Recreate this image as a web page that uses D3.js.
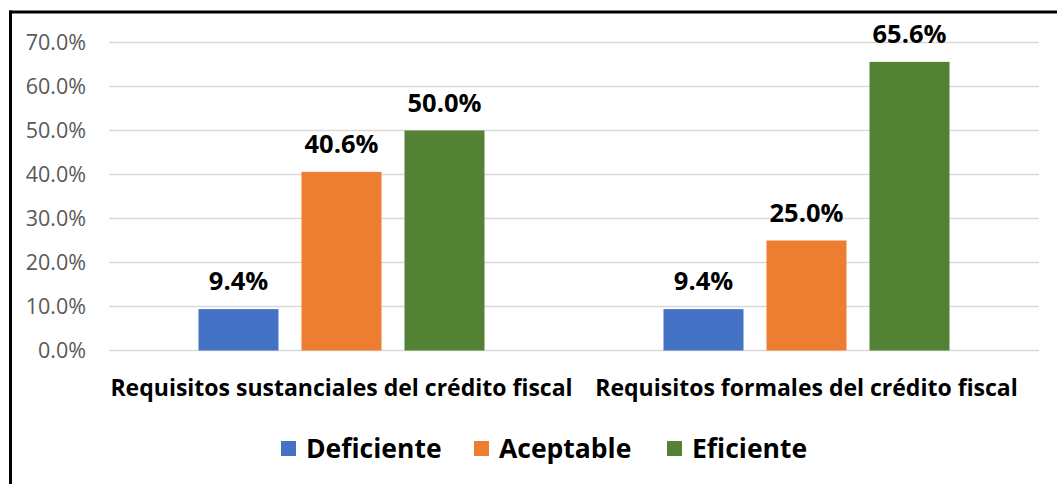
<!DOCTYPE html>
<html lang="es">
<head>
    <meta charset="UTF-8">
    <title>Requisitos del crédito fiscal</title>
    <script src="https://cdnjs.cloudflare.com/ajax/libs/d3/7.8.5/d3.min.js"></script>
    <style>
        body {
            margin: 0;
            background: #fff;
        }
        svg {
            display: block;
            font-family: "Open Sans", "Noto Sans", sans-serif;
        }
        .grid line {
            stroke: #d9d9d9;
            stroke-width: 1.5;
        }
        .tick-label {
            fill: #595959;
            font-size: 21.5px;
        }
        .value-label {
            font-size: 25.5px;
            font-weight: bold;
            fill: #000;
        }
        .cat-label {
            font-size: 23px;
            font-weight: bold;
            fill: #000;
        }
        .legend-label {
            font-size: 26.5px;
            font-weight: bold;
            fill: #000;
        }
    </style>
</head>
<body>
    <svg id="chart" width="1057" height="484"></svg>

    <script>
        const categories = [
            "Requisitos sustanciales del crédito fiscal",
            "Requisitos formales del crédito fiscal"
        ];
        const series = ["Deficiente", "Aceptable", "Eficiente"];
        const colors = ["#4472c4", "#ed7d31", "#548235"];
        // values in percent, one row per category
        const deficiente = [9.4, 9.4];
        const aceptable = [40.6, 25.0];
        const eficiente = [50.0, 65.6];
        const yTicks = [0, 10, 20, 30, 40, 50, 60, 70];

        const values = [deficiente, aceptable, eficiente];

        const svg = d3.select("#chart");
        const width = 1057;
        const height = 484;

        svg.append("rect")
            .attr("width", width)
            .attr("height", height)
            .attr("fill", "#fff");

        // frame of the pasted chart (only left and top are visible)
        svg.append("line")
            .attr("x1", 10.5).attr("x2", 10.5)
            .attr("y1", 10.5).attr("y2", height)
            .attr("stroke", "#000").attr("stroke-width", 3);
        svg.append("line")
            .attr("x1", 9).attr("x2", width)
            .attr("y1", 12).attr("y2", 12)
            .attr("stroke", "#000").attr("stroke-width", 3);

        const plot = { left: 109, right: 1039, top: 42.5, bottom: 350.5 };

        const y = d3.scaleLinear()
            .domain([0, 70])
            .range([plot.bottom, plot.top]);

        const x0 = d3.scaleBand()
            .domain(categories)
            .range([plot.left, plot.right]);

        const groupWidth = 286;
        const x1 = d3.scaleBand()
            .domain(series)
            .range([-groupWidth / 2, groupWidth / 2])
            .paddingInner(23 / 103);

        // gridlines
        svg.append("g")
            .attr("class", "grid")
            .selectAll("line")
            .data(yTicks)
            .join("line")
            .attr("x1", plot.left)
            .attr("x2", plot.right)
            .attr("y1", d => y(d))
            .attr("y2", d => y(d));

        // y tick labels
        svg.append("g")
            .selectAll("text")
            .data(yTicks)
            .join("text")
            .attr("class", "tick-label")
            .attr("x", 86)
            .attr("y", d => y(d))
            .attr("dy", "0.35em")
            .attr("text-anchor", "end")
            .text(d => d.toFixed(1) + "%");

        // bars
        const rows = [];
        categories.forEach((c, ci) => {
            series.forEach((s, si) => {
                rows.push({ cat: c, ser: s, value: values[si][ci], color: colors[si] });
            });
        });

        const bars = svg.append("g");
        bars.selectAll("rect")
            .data(rows)
            .join("rect")
            .attr("x", d => x0(d.cat) + x0.bandwidth() / 2 + x1(d.ser))
            .attr("y", d => y(d.value))
            .attr("width", x1.bandwidth())
            .attr("height", d => y(0) - y(d.value))
            .attr("fill", d => d.color);

        bars.selectAll("text")
            .data(rows)
            .join("text")
            .attr("class", "value-label")
            .attr("x", d => x0(d.cat) + x0.bandwidth() / 2 + x1(d.ser) + x1.bandwidth() / 2)
            .attr("y", d => y(d.value) - 19)
            .attr("text-anchor", "middle")
            .text(d => d.value.toFixed(1) + "%");

        // category labels
        svg.append("g")
            .selectAll("text")
            .data(categories)
            .join("text")
            .attr("class", "cat-label")
            .attr("x", d => x0(d) + x0.bandwidth() / 2)
            .attr("y", 396)
            .attr("text-anchor", "middle")
            .text(d => d);

        // legend
        const legendX = [281, 474, 667];
        const legend = svg.append("g")
            .selectAll("g")
            .data(series)
            .join("g")
            .attr("transform", (d, i) => `translate(${legendX[i]},441)`);

        legend.append("rect")
            .attr("width", 15)
            .attr("height", 15)
            .attr("fill", (d, i) => colors[i]);

        legend.append("text")
            .attr("class", "legend-label")
            .attr("x", 25)
            .attr("y", 17)
            .text(d => d);
    </script>
</body>
</html>
